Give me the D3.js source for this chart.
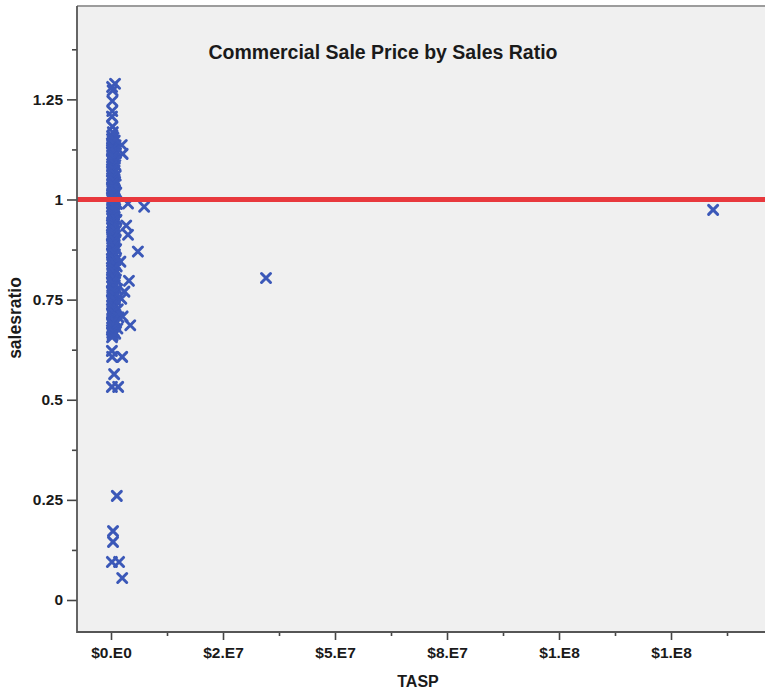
<!DOCTYPE html>
<html>
<head>
<meta charset="utf-8">
<script src="https://cdn.jsdelivr.net/npm/d3@7"></script>
<style>
  html, body { margin: 0; padding: 0; background: #fff; }
  svg { display: block; }
  text { font-family: "Liberation Sans", Arial, sans-serif; font-weight: bold; fill: #1a1a1a; }
</style>
</head>
<body>
<svg id="chart" width="765" height="691"></svg>
<script>
// Total adjusted sale price (millions of dollars) and sales ratio per commercial sale.
// Main body of sales, all under about $2M.
const clusterTasp = [
  0.90, 0.24, 0.36, 0.30, 0.28, 0.21, 0.33, 0.41, 0.26,
  0.55, 0.22, 0.83, 0.37, 0.19, 0.64, 1.02, 0.29, 0.48, 0.21,
  0.76, 0.40, 1.12, 0.26, 0.58, 0.33, 0.87, 0.20, 0.46, 0.69,
  0.31, 0.97, 0.24, 0.53, 0.38, 0.80, 0.19, 0.61, 0.28, 1.06,
  0.43, 0.22, 0.72, 0.35, 0.92, 0.51, 0.25, 0.66, 0.41, 0.20,
  0.84, 0.30, 1.18, 0.56, 0.23, 0.74, 0.39, 0.27, 0.95, 0.48,
  0.21, 1.32, 0.63, 0.34, 0.81, 0.24, 0.45, 1.04, 0.29, 0.58,
  0.20, 0.77, 0.37, 1.22, 0.50, 0.26, 0.68, 0.33, 0.89, 0.22,
  0.47, 1.08, 0.31, 0.60, 0.19, 0.83, 0.40, 0.25, 0.71, 0.98,
  0.36, 0.54, 0.21, 0.79, 0.44, 1.14, 0.28, 0.62, 0.23, 0.86,
  0.38, 0.52, 0.20, 1.01, 0.32, 0.67, 0.26, 0.45, 1.27, 0.35,
  0.75, 0.21, 0.57, 0.93, 0.30, 0.42, 0.24, 0.70, 1.10, 0.37,
  0.19, 0.59, 0.85, 0.27, 0.49, 1.38, 0.33, 0.22, 0.73, 0.41,
  0.96, 0.28, 0.55, 0.20, 1.20, 0.36, 0.65, 0.24, 0.88, 0.44,
  1.52, 0.30, 0.61, 0.21, 0.99, 0.39, 1.67, 0.26, 0.74, 0.34,
  1.15, 0.22, 0.53, 0.31, 1.43, 0.20, 0.62, 0.27, 0.95, 0.38,
  0.23
];
const clusterRatio = [
  1.289, 1.281, 1.272, 1.246, 1.221, 1.207, 1.182, 1.168, 1.158,
  1.154, 1.151, 1.147, 1.145, 1.140, 1.138, 1.135, 1.131, 1.129, 1.124,
  1.122, 1.118, 1.116, 1.111, 1.109, 1.105, 1.102, 1.098, 1.095, 1.093,
  1.088, 1.086, 1.082, 1.079, 1.076, 1.072, 1.070, 1.066, 1.062, 1.060,
  1.057, 1.053, 1.050, 1.046, 1.044, 1.040, 1.037, 1.034, 1.030, 1.027,
  1.024, 1.021, 1.017, 1.015, 1.011, 1.008, 1.004, 1.001, 0.998, 0.995,
  0.991, 0.989, 0.986, 0.982, 0.979, 0.975, 0.972, 0.969, 0.966, 0.962,
  0.959, 0.955, 0.953, 0.949, 0.946, 0.942, 0.939, 0.936, 0.932, 0.929,
  0.926, 0.922, 0.919, 0.916, 0.912, 0.909, 0.906, 0.902, 0.899, 0.896,
  0.893, 0.889, 0.886, 0.882, 0.879, 0.876, 0.873, 0.869, 0.866, 0.863,
  0.859, 0.856, 0.852, 0.849, 0.846, 0.842, 0.839, 0.836, 0.833, 0.829,
  0.826, 0.823, 0.819, 0.816, 0.813, 0.810, 0.806, 0.803, 0.800, 0.796,
  0.793, 0.790, 0.786, 0.783, 0.780, 0.776, 0.773, 0.769, 0.766, 0.763,
  0.759, 0.756, 0.752, 0.749, 0.746, 0.742, 0.739, 0.736, 0.732, 0.729,
  0.726, 0.722, 0.719, 0.716, 0.712, 0.709, 0.706, 0.703, 0.700, 0.696,
  0.693, 0.690, 0.686, 0.681, 0.678, 0.674, 0.671, 0.667, 0.665, 0.661,
  0.656
];

// Scattered sales just beside the main body and the low-ratio sales.
const spreadTasp = [
  2.4, 2.6, 3.8, 7.4, 3.4, 3.8, 6.0, 2.1, 4.0, 3.0, 2.3, 4.3, 2.6,
  2.5, 0.20, 0.25, 0.70, 0.20, 1.6, 1.3, 0.45, 0.45, 0.20, 1.8, 2.5
];
const spreadRatio = [
  1.136, 1.114, 0.990, 0.982, 0.935, 0.912, 0.870, 0.845, 0.797, 0.770, 0.752, 0.686, 0.708,
  0.607, 0.622, 0.607, 0.564, 0.532, 0.532, 0.260, 0.172, 0.145, 0.095, 0.095, 0.055
];

// Two very large sales.
const largeTasp = [34.6, 134.4];
const largeRatio = [0.804, 0.974];

// Axis ticks (x in millions of dollars).
const yTicks = [0, 0.25, 0.5, 0.75, 1, 1.25];
const yTickLabels = ["0", "0.25", "0.5", "0.75", "1", "1.25"];
const yMinorTicks = [0.125, 0.375, 0.625, 0.875, 1.125, 1.375];
const xTicks = [0, 25, 50, 75, 100, 125];
const xTickLabels = ["$0.E0", "$2.E7", "$5.E7", "$8.E7", "$1.E8", "$1.E8"];
const xMinorTicks = [12.5, 37.5, 62.5, 87.5, 112.5, 137.5];
const referenceRatio = 1;

const svg = d3.select("#chart");
const W = 765, H = 691;
const plot = { left: 77, top: 6, right: 765, bottom: 632 };

const x = d3.scaleLinear().domain([-7.59, 145.98]).range([plot.left, plot.right]);
const y = d3.scaleLinear().domain([-0.0799, 1.4831]).range([plot.bottom, plot.top]);

svg.append("rect").attr("width", W).attr("height", H).attr("fill", "#fff");

// plot background
svg.append("rect")
  .attr("x", plot.left).attr("y", plot.top)
  .attr("width", plot.right - plot.left + 5).attr("height", plot.bottom - plot.top)
  .attr("fill", "#f0f0f0");

// top frame
svg.append("line")
  .attr("x1", plot.left).attr("x2", plot.right + 5)
  .attr("y1", plot.top).attr("y2", plot.top)
  .attr("stroke", "#9c9c9c").attr("stroke-width", 2);

// points
const points = [];
clusterTasp.forEach((t, i) => points.push({ t, r: clusterRatio[i] }));
spreadTasp.forEach((t, i) => points.push({ t, r: spreadRatio[i] }));
largeTasp.forEach((t, i) => points.push({ t, r: largeRatio[i] }));

const arm = 4.5;
const cross = `M${-arm},${-arm}L${arm},${arm}M${-arm},${arm}L${arm},${-arm}`;
svg.append("g")
  .selectAll("path")
  .data(points)
  .join("path")
  .attr("transform", d => `translate(${x(d.t)},${y(d.r)})`)
  .attr("d", cross)
  .attr("fill", "none")
  .attr("stroke", "#3b58b8")
  .attr("stroke-width", 3)
  .attr("stroke-linecap", "round");

// reference line at ratio 1
svg.append("line")
  .attr("x1", plot.left).attr("x2", plot.right)
  .attr("y1", y(referenceRatio)).attr("y2", y(referenceRatio))
  .attr("stroke", "#e8383d").attr("stroke-width", 5);

// y axis
const yAxis = svg.append("g").attr("transform", `translate(${plot.left},0)`)
  .call(d3.axisLeft(y).tickValues(yTicks).tickFormat((d, i) => yTickLabels[i]).tickSize(10).tickPadding(4));
const yMinor = svg.append("g").attr("transform", `translate(${plot.left},0)`)
  .call(d3.axisLeft(y).tickValues(yMinorTicks).tickFormat("").tickSize(5));

// x axis
const xAxis = svg.append("g").attr("transform", `translate(0,${plot.bottom})`)
  .call(d3.axisBottom(x).tickValues(xTicks).tickFormat((d, i) => xTickLabels[i]).tickSize(8).tickPadding(7));
const xMinor = svg.append("g").attr("transform", `translate(0,${plot.bottom})`)
  .call(d3.axisBottom(x).tickValues(xMinorTicks).tickFormat("").tickSize(4));

[yAxis, yMinor, xAxis, xMinor].forEach(g => {
  g.select(".domain").remove();
  g.selectAll(".tick line").attr("stroke", "#444").attr("stroke-width", 1.6);
  g.selectAll(".tick text")
    .attr("font-family", '"Liberation Sans", Arial, sans-serif')
    .attr("font-weight", "bold")
    .attr("font-size", 15.5)
    .attr("fill", "#1a1a1a");
});

// axis frame lines
svg.append("line")
  .attr("x1", plot.left).attr("x2", plot.left)
  .attr("y1", plot.top).attr("y2", plot.bottom + 1)
  .attr("stroke", "#555").attr("stroke-width", 1.8);
svg.append("line")
  .attr("x1", plot.left).attr("x2", plot.right + 5)
  .attr("y1", plot.bottom).attr("y2", plot.bottom)
  .attr("stroke", "#555").attr("stroke-width", 1.8);

// titles
svg.append("text")
  .attr("x", 383).attr("y", 59)
  .attr("text-anchor", "middle")
  .attr("font-size", 19.5)
  .text("Commercial Sale Price by Sales Ratio");

svg.append("text")
  .attr("x", 418).attr("y", 687)
  .attr("text-anchor", "middle")
  .attr("font-size", 16)
  .text("TASP");

svg.append("text")
  .attr("transform", `translate(21,318) rotate(-90)`)
  .attr("text-anchor", "middle")
  .attr("font-size", 17.5)
  .text("salesratio");
</script>
</body>
</html>
